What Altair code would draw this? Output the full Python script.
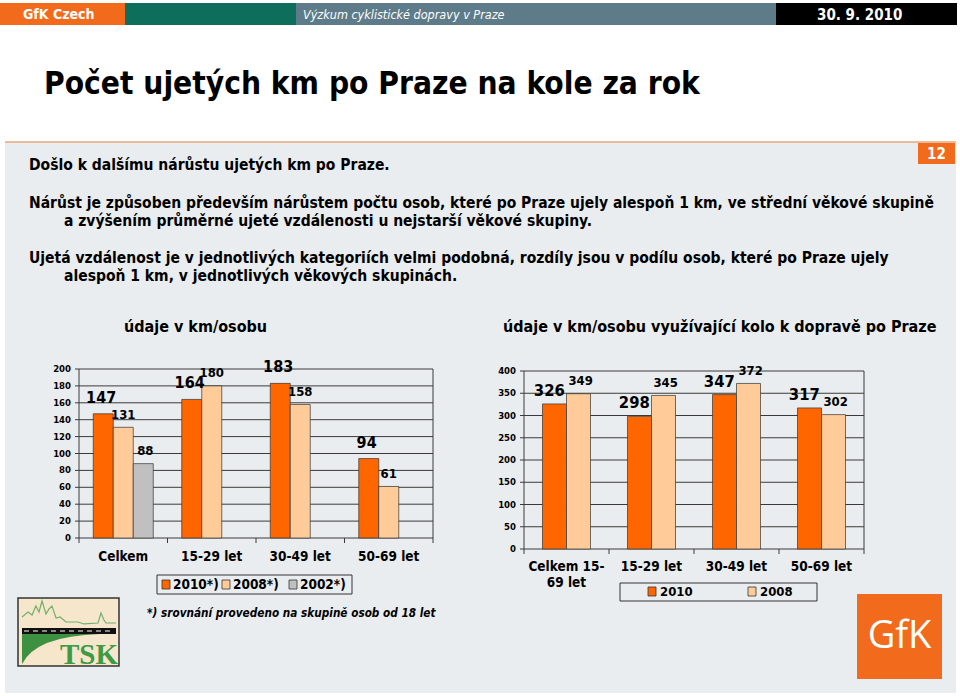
import altair as alt
import pandas as pd

# ---------------- data ----------------
left_categories = ["Celkem", "15-29 let", "30-49 let", "50-69 let"]
left_series = ["2010*)", "2008*)", "2002*)"]
left_2010 = [147, 164, 183, 94]
left_2008 = [131, 180, 158, 61]
left_2002 = [88, None, None, None]
left_ticks = [0, 20, 40, 60, 80, 100, 120, 140, 160, 180, 200]

right_categories = ["Celkem 15-\n69 let", "15-29 let", "30-49 let", "50-69 let"]
right_series = ["2010", "2008"]
right_2010 = [326, 298, 347, 317]
right_2008 = [349, 345, 372, 302]
right_ticks = [0, 50, 100, 150, 200, 250, 300, 350, 400]

ORANGE = "#ff6600"
PEACH = "#ffcc99"
GREY = "#c0c0c0"
F = "DejaVu Sans Condensed"

# ---------------- tables ----------------
rows = []
for s, vals in zip(left_series, [left_2010, left_2008, left_2002]):
    for c, v in zip(left_categories, vals):
        if v is not None:
            rows.append({"cat": c, "series": s, "value": v})
left_df = pd.DataFrame(rows)
rows = []
for s, vals in zip(right_series, [right_2010, right_2008]):
    for c, v in zip(right_categories, vals):
        rows.append({"cat": c, "series": s, "value": v})
right_df = pd.DataFrame(rows)
left_tick_df = pd.DataFrame({"v": left_ticks})
right_tick_df = pd.DataFrame({"v": right_ticks})
left_cat_df = pd.DataFrame({"cat": left_categories})
right_cat_df = pd.DataFrame({"cat": right_categories})
dummy = pd.DataFrame({"d": [0]})

# ---------------- scales ----------------
LX = alt.Scale(domain=left_categories, range=[79, 433], paddingInner=0, paddingOuter=0)
LXO = alt.Scale(type="band", domain=left_series, paddingInner=0, paddingOuter=0.7125)
LXO_T = alt.Scale(type="point", domain=left_series, padding=1.2125)
LY = alt.Scale(domain=[0, 200], range=[538, 369], nice=False)
LC = alt.Scale(domain=left_series, range=[ORANGE, PEACH, GREY])

RX = alt.Scale(domain=right_categories, range=[524, 864], paddingInner=0, paddingOuter=0)
RXO = alt.Scale(type="band", domain=right_series, paddingInner=0, paddingOuter=0.77)
RXO_T = alt.Scale(type="point", domain=right_series, padding=1.2708)
RY = alt.Scale(domain=[0, 400], range=[549, 371], nice=False)
RC = alt.Scale(domain=right_series, range=[ORANGE, PEACH])


def box(x1, x2, y1, y2, fill, stroke=None, sw=0):
    kw = {"fill": fill}
    if stroke is not None:
        kw["stroke"] = stroke
        kw["strokeWidth"] = sw
    return alt.Chart(dummy).mark_rect(**kw).encode(
        x=alt.value(x1), x2=alt.value(x2), y=alt.value(y1), y2=alt.value(y2))


def txt(s, x, y, size, color="black", align="left", weight="bold", style="normal", font=F, baseline="middle"):
    return alt.Chart(dummy).mark_text(
        text=s, align=align, baseline=baseline, fontSize=size, fontWeight=weight,
        fontStyle=style, font=font, color=color).encode(x=alt.value(x), y=alt.value(y))


def hline(x1, x2, y, color, sw=1, dash=None):
    kw = {"color": color, "strokeWidth": sw}
    if dash:
        kw["strokeDash"] = dash
    return alt.Chart(dummy).mark_rule(**kw).encode(
        x=alt.value(x1), x2=alt.value(x2), y=alt.value(y))


layers = []
# header
layers += [
    box(0, 125, 3, 25, "#f26b1d"),
    box(125, 296, 3, 25, "#0e6e5c"),
    box(296, 776, 3, 25, "#5e7b89"),
    box(776, 957, 3, 25, "#000000"),
    txt("GfK Czech", 23, 15, 14, "white"),
    txt("Výzkum cyklistické dopravy v Praze", 303, 15, 12.5, "white", weight="normal", style="italic"),
    txt("30. 9. 2010", 817, 15, 15, "white"),
    txt("Počet ujetých km po Praze na kole za rok", 44, 85, 31.4),
]
# panel
layers += [
    box(5, 956, 142, 693, "#eaedef"),
    hline(5, 956, 142, "#e9a77d", 1.5),
    box(918, 955, 143, 164, "#f26b1d"),
    txt("12", 936.5, 153.5, 15, "white", align="center"),
    txt("Došlo k dalšímu nárůstu ujetých km po Praze.", 29, 165, 15.5),
    txt("Nárůst je způsoben především nárůstem počtu osob, které po Praze ujely alespoň 1 km, ve střední věkové skupině", 29, 203, 15.5),
    txt("a zvýšením průměrné ujeté vzdálenosti u nejstarší věkové skupiny.", 64, 221, 15.5),
    txt("Ujetá vzdálenost je v jednotlivých kategoriích velmi podobná, rozdíly jsou v podílu osob, které po Praze ujely", 29, 258, 15.5),
    txt("alespoň 1 km, v jednotlivých věkových skupinách.", 64, 276, 15.5),
    txt("údaje v km/osobu", 124, 327, 16),
    txt("údaje v km/osobu využívající kolo k dopravě po Praze", 503, 327, 16),
]

# ---------------- left chart ----------------
lx = alt.X("cat:N", scale=LX, axis=None, sort=left_categories)
lxo = alt.XOffset("series:N", scale=LXO, sort=left_series)
lxo_t = alt.XOffset("series:N", scale=LXO_T, sort=left_series)
ly = alt.Y("value:Q", scale=LY, axis=None)
layers += [
    alt.Chart(left_tick_df).mark_rule(color="#3a3a3a", strokeWidth=1).encode(
        y=alt.Y("v:Q", scale=LY, axis=None), x=alt.value(79), x2=alt.value(433)),
    alt.Chart(left_tick_df).mark_rule(color="#3a3a3a", strokeWidth=1).encode(
        y=alt.Y("v:Q", scale=LY, axis=None), x=alt.value(75), x2=alt.value(79)),
    alt.Chart(left_tick_df).mark_text(align="right", baseline="middle", fontSize=9.5, fontWeight="bold", font=F).encode(
        y=alt.Y("v:Q", scale=LY, axis=None), x=alt.value(71), text="v:Q"),
    alt.Chart(dummy).mark_rule(color="#3a3a3a", strokeWidth=1).encode(
        x=alt.value(79), y=alt.value(369), y2=alt.value(543)),
    alt.Chart(dummy).mark_rule(color="#3a3a3a", strokeWidth=1).encode(
        x=alt.value(433), y=alt.value(369), y2=alt.value(538)),
    alt.Chart(left_cat_df).mark_rule(color="#3a3a3a", strokeWidth=1).encode(
        x=alt.X("cat:N", scale=LX, axis=None, sort=left_categories, bandPosition=1),
        y=alt.value(538), y2=alt.value(543)),
    alt.Chart(left_df).mark_bar(stroke="#333333", strokeWidth=0.7).encode(
        x=lx, xOffset=lxo, y=ly,
        color=alt.Color("series:N", scale=LC, legend=None)),
    alt.Chart(left_df).transform_filter(alt.datum.series == left_series[0]).mark_text(
        baseline="middle", dy=-16, fontSize=16, fontWeight="bold", font=F).encode(
        x=lx, xOffset=lxo_t, y=ly, text="value:Q"),
    alt.Chart(left_df).transform_filter(alt.datum.series != left_series[0]).mark_text(
        baseline="middle", dy=-12.5, fontSize=13, fontWeight="bold", font=F).encode(
        x=lx, xOffset=lxo_t, y=ly, text="value:Q"),
    alt.Chart(left_cat_df).mark_text(baseline="middle", fontSize=13.5, fontWeight="bold", font=F).encode(
        x=alt.X("cat:N", scale=LX, axis=None, sort=left_categories), y=alt.value(557), text="cat:N"),
]
# left legend
layers += [
    box(157, 352, 575, 594, "#eaedef", "#333333", 1),
    box(162, 170, 580, 589, ORANGE, "#333333", 0.8),
    txt(left_series[0], 173, 585, 13.5),
    box(222, 230, 580, 589, PEACH, "#333333", 0.8),
    txt(left_series[1], 233, 585, 13.5),
    box(289, 297, 580, 589, GREY, "#333333", 0.8),
    txt(left_series[2], 300, 585, 13.5),
    txt("*) srovnání provedeno na skupině osob od 18 let", 147, 613, 11.7, style="italic"),
]

# ---------------- right chart ----------------
rx = alt.X("cat:N", scale=RX, axis=None, sort=right_categories)
rxo = alt.XOffset("series:N", scale=RXO, sort=right_series)
rxo_t = alt.XOffset("series:N", scale=RXO_T, sort=right_series)
ry = alt.Y("value:Q", scale=RY, axis=None)
layers += [
    alt.Chart(right_tick_df).mark_rule(color="#3a3a3a", strokeWidth=1).encode(
        y=alt.Y("v:Q", scale=RY, axis=None), x=alt.value(524), x2=alt.value(864)),
    alt.Chart(right_tick_df).mark_rule(color="#3a3a3a", strokeWidth=1).encode(
        y=alt.Y("v:Q", scale=RY, axis=None), x=alt.value(520), x2=alt.value(524)),
    alt.Chart(right_tick_df).mark_text(align="right", baseline="middle", fontSize=9.5, fontWeight="bold", font=F).encode(
        y=alt.Y("v:Q", scale=RY, axis=None), x=alt.value(516), text="v:Q"),
    alt.Chart(dummy).mark_rule(color="#3a3a3a", strokeWidth=1).encode(
        x=alt.value(524), y=alt.value(371), y2=alt.value(554)),
    alt.Chart(dummy).mark_rule(color="#3a3a3a", strokeWidth=1).encode(
        x=alt.value(864), y=alt.value(371), y2=alt.value(549)),
    alt.Chart(right_cat_df).mark_rule(color="#3a3a3a", strokeWidth=1).encode(
        x=alt.X("cat:N", scale=RX, axis=None, sort=right_categories, bandPosition=1),
        y=alt.value(549), y2=alt.value(554)),
    alt.Chart(right_df).mark_bar(stroke="#333333", strokeWidth=0.7).encode(
        x=rx, xOffset=rxo, y=ry,
        color=alt.Color("series:N", scale=RC, legend=None)),
    alt.Chart(right_df).transform_filter(alt.datum.series == right_series[0]).mark_text(
        baseline="middle", dy=-13, dx=-3, fontSize=16.5, fontWeight="bold", font=F).encode(
        x=rx, xOffset=rxo_t, y=ry, text="value:Q"),
    alt.Chart(right_df).transform_filter(alt.datum.series != right_series[0]).mark_text(
        baseline="middle", dy=-12.5, fontSize=13, fontWeight="bold", font=F).encode(
        x=rx, xOffset=rxo_t, y=ry, text="value:Q"),
    alt.Chart(right_cat_df).mark_text(baseline="middle", fontSize=13.5, fontWeight="bold", font=F,
                                      lineBreak="\n", lineHeight=16).encode(
        x=alt.X("cat:N", scale=RX, axis=None, sort=right_categories), y=alt.value(567), text="cat:N"),
]
# right legend
layers += [
    box(620, 817, 583, 601, "#eaedef", "#333333", 1),
    box(648, 656, 587, 596, ORANGE, "#333333", 0.8),
    txt(right_series[0], 660, 592, 13),
    box(748, 756, 587, 596, PEACH, "#333333", 0.8),
    txt(right_series[1], 760, 592, 13),
]

# ---------------- logos ----------------
mountain = ("M -1 0.125 L -0.875 0.021 L -0.79 0.083 L -0.71 -0.104 L -0.646 0.021 L -0.583 -0.208 "
            "L -0.5 0.0625 L -0.4375 -0.042 L -0.375 -0.104 L -0.29 0.146 L -0.208 0.125 L -0.083 0.229 "
            "L 0.167 0.229 L 0.29 0.27 L 0.583 0.25 L 0.646 0.042 L 0.708 0.1875 L 0.75 0.25 L 0.958 0.25")
wedge = "M -0.9 -0.35 L 1.05 -0.35 Q -0.55 -0.3 -0.9 0.4 Z"
layers += [
    box(18, 119, 598, 666, "#f6e6cc", "#333333", 1.5),
    alt.Chart(dummy).mark_point(shape=mountain, size=9216, filled=False, color="#3d9a45", strokeWidth=1.2).encode(
        x=alt.value(70), y=alt.value(611)),
    box(22, 116, 628, 634, "#111111"),
    hline(24, 114, 631, "white", 1, [5, 4]),
    alt.Chart(dummy).mark_point(shape=wedge, size=6400, filled=True, color="#3d9140", opacity=1).encode(
        x=alt.value(58), y=alt.value(648)),
    txt("TSK", 89, 664, 29, "#3d9a45", align="center", font="Liberation Serif", baseline="alphabetic"),
    box(857, 942, 594, 679, "#f26b1d"),
    txt("GfK", 899.5, 637, 38, "white", align="center", weight="normal", font="Open Sans"),
]

chart = alt.layer(*layers).resolve_scale(
    x="independent", y="independent", xOffset="independent", color="independent"
).properties(
    width=960, height=696, autosize=alt.AutoSizeParams(type="none"), padding=0, background="white"
).configure_view(strokeWidth=0)

chart.save("out.html", embed_options={"renderer": "svg", "actions": False})
